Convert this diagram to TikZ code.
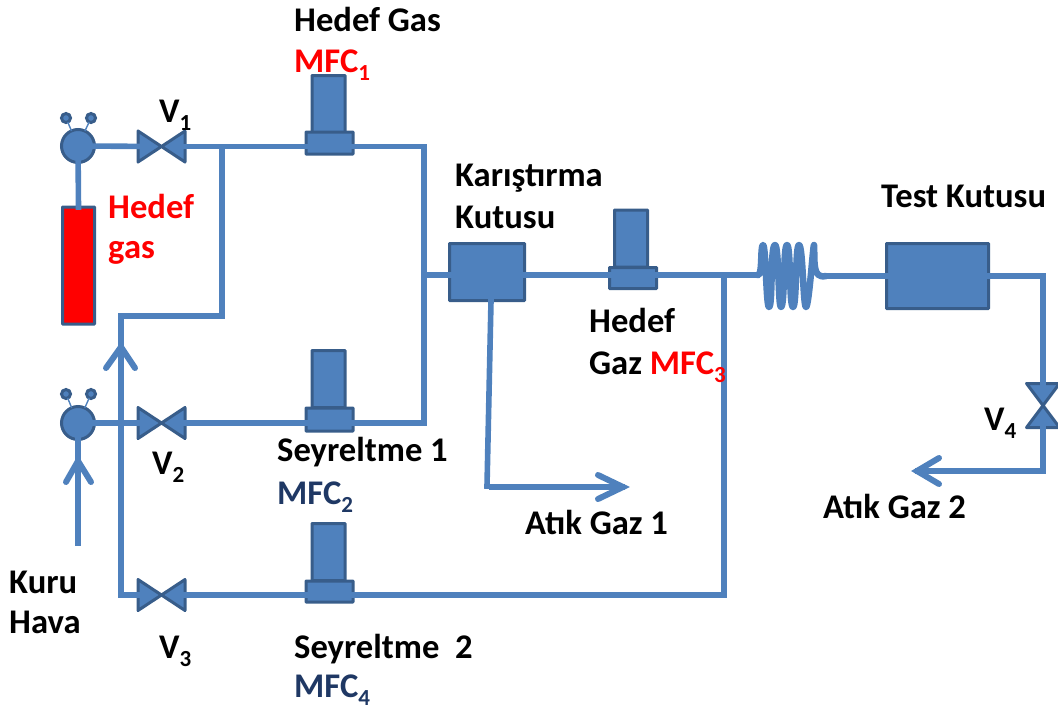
\documentclass[tikz,border=0pt]{standalone}
\usepackage{fontspec}
\setmainfont{Carlito}
\definecolor{pipe}{HTML}{4F81BD}
\definecolor{edge}{HTML}{385D8A}
\definecolor{navy}{HTML}{1F3864}
\tikzset{
  pipeline/.style={draw=pipe,line width=5.6pt,line cap=rect,line join=miter},
  arrowbarb/.style={draw=pipe,line width=6pt,line cap=round,line join=miter},
  part/.style={draw=edge,fill=pipe,line width=3pt,rounded corners=0.6pt,inner sep=0pt,outer sep=0pt},
  valvebox/.style={inner sep=0pt,outer sep=0pt,minimum width=#1},
  valveshape/.style={draw=edge,fill=pipe,line width=3pt,line join=round},
  thin lead/.style={draw=pipe,line width=1.4pt},
  lab/.style={font=\fontsize{34.6}{40}\selectfont\bfseries,inner sep=0pt,anchor=base west},
}
\newcommand{\dn}[1]{\raisebox{-8pt}{\fontsize{23}{23}\selectfont #1}}
\begin{document}
\begin{tikzpicture}[x=1pt,y=-1pt]
\useasboundingbox (0,0) rectangle (1058,710);
% MFC and box nodes
\node[part,minimum width=33pt,minimum height=57pt] (t1) at (328.5,104) {};
\node[part,minimum width=33pt,minimum height=57pt] (t2) at (328.5,379) {};
\node[part,minimum width=33pt,minimum height=57pt] (t4) at (328.5,552) {};
\node[part,minimum width=33pt,minimum height=57pt] (t3) at (631,238.5) {};
\node[part,minimum width=47pt,minimum height=22pt] (m1) at (329.5,143) {};
\node[part,minimum width=47pt,minimum height=23pt] (m2) at (329.5,419.5) {};
\node[part,minimum width=47pt,minimum height=21pt] (m4) at (329.5,591.5) {};
\node[part,minimum width=47pt,minimum height=21pt] (m3) at (633,278) {};
\node[part,minimum width=75pt,minimum height=57pt] (mix) at (487,272) {};
\node[part,minimum width=102pt,minimum height=65pt] (test) at (937.5,276) {};
\node[part,fill=red,minimum width=32pt,minimum height=117pt] (cyl) at (78.5,265.5) {};
% Regulators
\node[part,circle,minimum size=33pt] (r1) at (78,146) {};
\node[part,circle,minimum size=33pt] (r2) at (78,423) {};
\node[part,circle,minimum size=9pt] (r1a) at (66,118) {};
\node[part,circle,minimum size=9pt] (r1b) at (91,118) {};
\node[part,circle,minimum size=9pt] (r2a) at (66,394) {};
\node[part,circle,minimum size=9pt] (r2b) at (91,394) {};
\draw[thin lead] (r1a) -- (r1) (r1b) -- (r1) (r2a) -- (r2) (r2b) -- (r2);
% Valves
\node[valvebox=47pt,minimum height=31pt] (v1) at (161.5,146.5) {};
\node[valvebox=47pt,minimum height=31pt] (v2) at (161.5,423) {};
\node[valvebox=47pt,minimum height=31pt] (v3) at (161.5,595) {};
\node[valvebox=33pt,minimum height=44pt] (v4) at (1043,405.5) {};
\foreach \v in {v1,v2,v3}
  \draw[valveshape] (\v.north west) -- (\v.south east) -- (\v.north east) -- (\v.south west) -- cycle;
\draw[valveshape] (v4.north west) -- (v4.north east) -- (v4.south west) -- (v4.south east) -- cycle;
% Free corner points
\coordinate (j1) at (222,146.5);
\coordinate (c1) at (222,316);
\coordinate (c2) at (121,316);
\coordinate (c3) at (121,595);
\coordinate (a1) at (424,146.5);
\coordinate (a2) at (424,423);
\coordinate (a3) at (424,275);
\coordinate (j2) at (727,275);
\coordinate (c4) at (724,595);
\coordinate (c5) at (1043,276);
\coordinate (c6) at (1043,471);
\coordinate (tip2) at (918,471);
\coordinate (c7) at (491,301);
\coordinate (c8) at (487,486);
\coordinate (c9) at (492,487);
\coordinate (tip1) at (622,487);
\coordinate (kuru) at (78,543);
\coordinate (coilin) at (757,275);
\coordinate (coilout) at (826,276);
% Pipes
\draw[pipeline] (r1) -- (cyl.north);
\draw[pipeline] (r1) -- (v1);
\draw[pipeline] (v1.east) -- (m1.west |- v1.east);
\draw[pipeline] (m1.east |- a1) -- (a1) -- (a2) -- (m2.east |- a2);
\draw[pipeline] (m2.west |- v2.east) -- (v2.east);
\draw[pipeline] (r2) -- (v2.west);
\draw[pipeline] (j1) -- (c1) -- (c2) -- (c3) -- (v3.west);
\draw[pipeline] (v3.east) -- (m4.west |- v3.east);
\draw[pipeline] (m4.east |- c4) -- (c4) -- (c4 |- j2);
\draw[pipeline] (a3) -- (mix.west |- a3);
\draw[pipeline] (mix.east |- a3) -- (m3.west |- a3);
\draw[pipeline] (m3.east |- a3) -- (coilin);
\draw[pipeline] (coilout) -- (test.west |- coilout);
\draw[pipeline] (test.east |- c5) -- (c5) -- (v4.north);
\draw[pipeline] (v4.south) -- (c6) -- (tip2);
\draw[pipeline] (c7) -- (c8);
\draw[pipeline] (c9) -- (tip1);
\draw[pipeline] (kuru) -- (r2);
% Arrow barbs
\draw[arrowbarb] (106,368) -- (121,347) -- (135,368);
\draw[arrowbarb] (66,482) -- (78,461) -- (91,482);
\draw[arrowbarb] (939,458) -- (917,471) -- (939,484);
\draw[arrowbarb] (598,475) -- (623,487) -- (598,499);
% Coil
\draw[draw=pipe,line width=6.5pt,line cap=round,line join=round]
  (coilin) .. controls (763,279) and (760,245) .. (763,245)
  .. controls (766,245) and (766,307) .. (769,307)
  .. controls (773,307) and (770,245) .. (775,245)
  .. controls (779,245) and (778,307) .. (781,307)
  .. controls (785,307) and (783,245) .. (787,245)
  .. controls (791,245) and (789,307) .. (793,307)
  .. controls (797,307) and (795,245) .. (799,245)
  .. controls (803,245) and (803,307) .. (806,307)
  .. controls (809,307) and (813,245) .. (814,245)
  .. controls (815,262) and (812,279) .. (coilout);
% Labels
\node[lab] (l1) at (294,31) {Hedef Gas};
\node[lab,text=red] (l2) at (294,72) {MFC\dn{1}};
\node[lab] (l3) at (159,122) {V\dn{1}};
\node[lab,text=red] (l4a) at (108,218) {Hedef};
\node[lab,text=red] (l4b) at (108,258) {gas};
\node[lab] (l5a) at (455,186) {Karıştırma};
\node[lab] (l5b) at (455,228) {Kutusu};
\node[lab] (l6) at (881,207) {Test Kutusu};
\node[lab] (l7) at (589,332) {Hedef};
\node[lab] (l8) at (589,374) {Gaz \textcolor{red}{MFC\dn{3}}};
\node[lab] (l9) at (277,461) {Seyreltme 1};
\node[lab,text=navy] (l10) at (277,504) {MFC\dn{2}};
\node[lab] (l11) at (152,474) {V\dn{2}};
\node[lab] (l12) at (159,658) {V\dn{3}};
\node[lab] (l13) at (984,430) {V\dn{4}};
\node[lab] (l14) at (525,534) {Atık Gaz 1};
\node[lab] (l15) at (823,518) {Atık Gaz 2};
\node[lab] (l16) at (9,593) {Kuru};
\node[lab] (l17) at (9,633) {Hava};
\node[lab] (l18) at (294,658) {Seyreltme\ \ 2};
\node[lab,text=navy] (l19) at (294,697) {MFC\dn{4}};
\end{tikzpicture}
\end{document}
